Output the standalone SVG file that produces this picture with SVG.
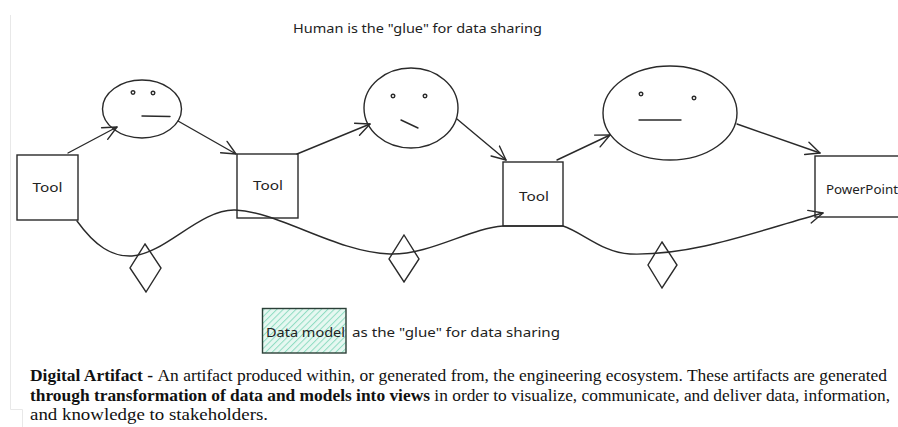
<svg xmlns="http://www.w3.org/2000/svg" width="898" height="427" viewBox="0 0 898 427">
  <style>
    .ink { fill: none; stroke: #2a2a2a; stroke-width: 1.4; stroke-linecap: round; stroke-linejoin: round; }
    .box { fill: none; stroke: #2a2a2a; stroke-width: 1.4; }
    .hand { font-family: "Noto Sans", "DejaVu Sans", sans-serif; font-size: 12.5px; fill: #222222; }
    .serif { font-family: "Liberation Serif", "Times New Roman", serif; font-size: 17px; fill: #111111; }
    .bold { font-weight: bold; }
  </style>
  <defs>
    <marker id="arrow" viewBox="0 0 16 16" refX="15" refY="8" markerWidth="16" markerHeight="16" markerUnits="userSpaceOnUse" orient="auto">
      <path d="M1,1.5 L15,8 L1,14.5" fill="none" stroke="#2a2a2a" stroke-width="1.4" stroke-linecap="round" stroke-linejoin="round"/>
    </marker>
    <pattern id="hatch" patternUnits="userSpaceOnUse" width="4.5" height="4.5" patternTransform="rotate(45)">
      <rect width="4.5" height="4.5" fill="#e6f8f1"/>
      <line x1="0" y1="0" x2="0" y2="4.5" stroke="#8fdcc2" stroke-width="2"/>
    </pattern>
  </defs>

  <rect width="898" height="427" fill="#ffffff"/>

  <!-- faint page margin -->
  <path d="M10.5,15 V409.5 H22.5 V427" fill="none" stroke="#e8e8e8" stroke-width="1"/>

  <!-- heading -->
  <text class="hand" x="293" y="33" textLength="249" lengthAdjust="spacingAndGlyphs">Human is the "glue" for data sharing</text>

  <!-- connectors -->
  <g id="connectors">
    <path class="ink" d="M68,153 L117,127" marker-end="url(#arrow)"/>
    <path class="ink" d="M178,121 L236,154" marker-end="url(#arrow)"/>
    <path class="ink" d="M297,154 L370,124" marker-end="url(#arrow)"/>
    <path class="ink" d="M457,119 L506,160" marker-end="url(#arrow)"/>
    <path class="ink" d="M557,160 L610,135" marker-end="url(#arrow)"/>
    <path class="ink" d="M737,124 L820,153" marker-end="url(#arrow)"/>
    <path class="ink" d="M77,221 C95,246 112,257 132,256 C165,254 200,209 235,210 C280,212 335,252 390,254 C430,255 470,228 503,226 L563,226 C582,232 603,253 630,254 C695,256 760,230 823,213" marker-end="url(#arrow)"/>
  </g>

  <!-- tools -->
  <g id="tool-1">
    <rect class="box" x="17" y="155" width="61" height="65"/>
    <text class="hand" x="47.5" y="192" text-anchor="middle" textLength="30" lengthAdjust="spacingAndGlyphs">Tool</text>
  </g>
  <g id="tool-2">
    <rect class="box" x="237" y="154" width="61" height="64"/>
    <text class="hand" x="268" y="190" text-anchor="middle" textLength="30" lengthAdjust="spacingAndGlyphs">Tool</text>
  </g>
  <g id="tool-3">
    <rect class="box" x="503" y="162" width="60" height="64"/>
    <text class="hand" x="534" y="201" text-anchor="middle" textLength="30" lengthAdjust="spacingAndGlyphs">Tool</text>
  </g>
  <g id="powerpoint">
    <rect class="box" x="815" y="156" width="95" height="61"/>
    <text class="hand" x="826" y="194" textLength="72" lengthAdjust="spacingAndGlyphs">PowerPoint</text>
  </g>

  <!-- humans -->
  <g id="human-1">
    <ellipse class="ink" cx="142" cy="109" rx="39.5" ry="29"/>
    <circle class="ink" cx="133" cy="92.5" r="1.8" stroke-width="1.1"/>
    <circle class="ink" cx="153" cy="93" r="1.8" stroke-width="1.1"/>
    <path class="ink" d="M142,116 L170,116.5"/>
  </g>
  <g id="human-2">
    <ellipse class="ink" cx="411" cy="108" rx="47" ry="40"/>
    <circle class="ink" cx="393" cy="96" r="1.8" stroke-width="1.1"/>
    <circle class="ink" cx="425" cy="96" r="1.8" stroke-width="1.1"/>
    <path class="ink" d="M401,120 L418,128"/>
  </g>
  <g id="human-3">
    <ellipse class="ink" cx="670" cy="113" rx="67" ry="47"/>
    <circle class="ink" cx="641" cy="94" r="1.8" stroke-width="1.1"/>
    <circle class="ink" cx="694" cy="98" r="1.8" stroke-width="1.1"/>
    <path class="ink" d="M639,120 L681,120"/>
  </g>

  <!-- data model diamonds -->
  <g id="diamond-1">
    <path class="box" d="M145,244 L161,268 L146,292 L130,268 Z"/>
  </g>
  <g id="diamond-2">
    <path class="box" d="M404,235 L419,259 L404,282 L389,259 Z"/>
  </g>
  <g id="diamond-3">
    <path class="box" d="M662,242 L677,265 L662,288 L648,265 Z"/>
  </g>

  <!-- data model legend -->
  <g id="data-model">
    <rect x="262.5" y="308.5" width="83.5" height="44.5" fill="url(#hatch)" stroke="#2b3f37" stroke-width="1.4"/>
    <text class="hand" x="266" y="337" fill="#1d3b31" textLength="79" lengthAdjust="spacingAndGlyphs">Data model</text>
    <text class="hand" x="352" y="337" textLength="208" lengthAdjust="spacingAndGlyphs">as the "glue" for data sharing</text>
  </g>

  <!-- definition -->
  <g id="definition">
    <text class="serif" x="30" y="381" textLength="857" lengthAdjust="spacingAndGlyphs"><tspan class="bold">Digital Artifact - </tspan>An artifact produced within, or generated from, the engineering ecosystem. These artifacts are generated</text>
    <text class="serif" x="30" y="401" textLength="860" lengthAdjust="spacingAndGlyphs"><tspan class="bold">through transformation of data and models into views</tspan> in order to visualize, communicate, and deliver data, information,</text>
    <text class="serif" x="30" y="420" textLength="238" lengthAdjust="spacingAndGlyphs">and knowledge to stakeholders.</text>
  </g>
</svg>
